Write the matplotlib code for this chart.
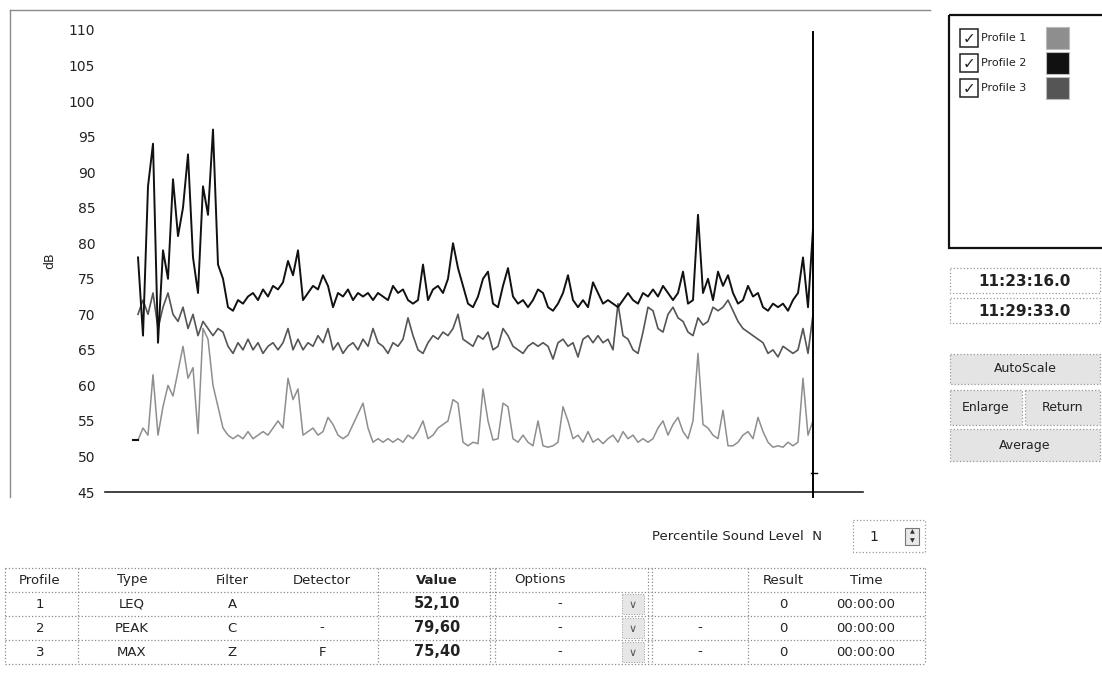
import numpy as np
import matplotlib
matplotlib.use("Agg")
import matplotlib.pyplot as plt
from matplotlib.patches import Rectangle

# ---------------- data ----------------
profile1_db = [52.3, 54, 53, 61.5, 53, 57, 60, 58.5, 62, 65.5, 61, 62.5, 53.2, 68, 66.5, 60, 57, 54, 53, 52.5,
               53, 52.5, 53.5, 52.5, 53, 53.5, 53, 54, 55, 54, 61, 58, 59.5, 53, 53.5, 54, 53, 53.5, 55.5, 54.5,
               53, 52.5, 53, 54.5, 56, 57.5, 54, 52, 52.5, 52, 52.5, 52, 52.5, 52, 53, 52.5, 53.5, 55, 52.5, 53,
               54, 54.5, 55, 58, 57.5, 52, 51.5, 52, 51.8, 59.5, 55, 52.3, 52.5, 57.5, 57, 52.5, 52, 53, 52, 51.5,
               55, 51.5, 51.3, 51.5, 52, 57, 55, 52.5, 53, 52, 53.5, 52, 52.5, 51.8, 52.5, 53, 52, 53.5, 52.5, 53,
               52, 52.5, 52, 52.5, 54, 55, 53, 54.5, 55.5, 53.5, 52.5, 55, 64.5, 54.5, 54, 53, 52.5, 56.5, 51.5, 51.5,
               52, 53, 53.5, 52.5, 55.5, 53.5, 52, 51.3, 51.5, 51.3, 52, 51.5, 52, 61, 53, 55]
profile2_db = [78, 67, 88, 94, 66, 79, 75, 89, 81, 85, 92.5, 78, 73, 88, 84, 96, 77, 75, 71, 70.5,
               72, 71.5, 72.5, 73, 72, 73.5, 72.5, 74, 73.5, 74.5, 77.5, 75.5, 79, 72, 73, 74, 73.5, 75.5, 74, 71,
               73, 72.5, 73.5, 72, 73, 72.5, 73, 72, 73, 72.5, 72, 74, 73, 73.5, 72, 71.5, 72, 77, 72, 73.5,
               74, 73, 75, 80, 76.5, 74, 71.5, 71, 72.5, 75, 76, 71.5, 71, 74, 76.5, 72.5, 71.5, 72, 71, 72,
               73.5, 73, 71, 70.5, 71.5, 73, 75.5, 72, 71, 72, 71, 74.5, 73, 71.5, 72, 71.5, 71, 72, 73, 72,
               71.5, 73, 72.5, 73.5, 72.5, 74, 73, 72, 73, 76, 71.5, 72, 84, 73, 75, 72, 76, 74, 75.5, 73,
               71.5, 72, 74, 72.5, 73, 71, 70.5, 71.5, 71, 71.5, 70.5, 72, 73, 78, 71, 82]
profile3_db = [70, 72, 70, 73, 68, 71, 73, 70, 69, 71, 68, 70, 67, 69, 68, 67, 68, 67.5, 65.5, 64.5,
               66, 65, 66.5, 65, 66, 64.5, 65.5, 66, 65, 66, 68, 65, 66.5, 65, 66, 65.5, 67, 66, 68, 65,
               66, 64.5, 65.5, 66, 65, 66.5, 65.5, 68, 66, 65.5, 64.5, 66, 65.5, 66.5, 69.5, 67, 65, 64.5, 66, 67,
               66.5, 67.5, 67, 68, 70, 66.5, 66, 65.5, 67, 66.5, 67.5, 65, 65.5, 68, 67, 65.5, 65, 64.5, 65.5, 66,
               65.5, 66, 65.5, 63.7, 66, 66.5, 65.5, 66, 64, 66.5, 67, 66, 67, 66, 66.5, 65, 71.5, 67, 66.5, 65,
               64.5, 67.5, 71, 70.5, 68, 67.5, 70, 71, 69.5, 69, 67.5, 67, 69.5, 68.5, 69, 71, 70.5, 71, 72, 70.5,
               69, 68, 67.5, 67, 66.5, 66, 64.5, 65, 64, 65.5, 65, 64.5, 65, 68, 64.5, 70]

y_ticks = [45, 50, 55, 60, 65, 70, 75, 80, 85, 90, 95, 100, 105, 110]
start_time = "11:23:16.0"
end_time = "11:29:33.0"
duration_s = 377
legend_labels = ["Profile 1", "Profile 2", "Profile 3"]
series_colors = ["#8e8e8e", "#111111", "#555555"]

table_header = ["Profile", "Type", "Filter", "Detector", "Value", "Options", "", "Result", "Time"]
table_profile = ["1", "2", "3"]
table_type = ["LEQ", "PEAK", "MAX"]
table_filter = ["A", "C", "Z"]
table_detector = ["", "-", "F"]
table_value = ["52,10", "79,60", "75,40"]
table_options = ["-", "-", "-"]
table_extra = ["", "-", "-"]
table_result = ["0", "0", "0"]
table_time = ["00:00:00", "00:00:00", "00:00:00"]
buttons = ["AutoScale", "Enlarge", "Return", "Average"]
percentile_label = "Percentile Sound Level  N"
percentile_n = "1"

# ---------------- figure ----------------
W, H = 1102, 675
fig = plt.figure(figsize=(W / 100, H / 100), dpi=100)
fig.patch.set_facecolor("white")


def frac(x0, y0, x1, y1):
    return [x0 / W, 1 - y1 / H, (x1 - x0) / W, (y1 - y0) / H]


# overlay in pixel coordinates for the UI chrome
ov = fig.add_axes([0, 0, 1, 1], zorder=0)
ov.set_xlim(0, W)
ov.set_ylim(H, 0)
ov.axis("off")

# main chart
ax = fig.add_axes(frac(105, 30, 863, 492), zorder=1)
ax.patch.set_alpha(0)
t = np.linspace(0, duration_s, len(profile1_db))
px_per_s = (813 - 138) / duration_s
ax.set_xlim(-(138 - 105) / px_per_s, duration_s + (863 - 813) / px_per_s)
ax.set_ylim(45, 110)
for vals, col, z, lw in [(profile1_db, series_colors[0], 2, 1.1), (profile3_db, series_colors[2], 3, 1.2),
                         (profile2_db, series_colors[1], 4, 1.4)]:
    ax.plot(t, vals, color=col, lw=lw, zorder=z)
# short start marker of profile 1
ax.plot([t[0] - 3, t[0]], [profile1_db[0], profile1_db[0]], color=series_colors[1], lw=1.5)
# cursor
ax.plot([t[-1], t[-1]], [44.3, 109.7], color="black", lw=1.4, clip_on=False, zorder=6)
ax.plot([t[-1] - 1, t[-1] + 2], [47.7, 47.7], color="black", lw=1, zorder=6)

ax.set_yticks(y_ticks)
ax.set_yticklabels([str(v) for v in y_ticks], fontsize=10, color="#222222")
ax.set_xticks([])
ax.tick_params(axis="y", length=0, pad=7)
for s in ["top", "right", "left"]:
    ax.spines[s].set_visible(False)
ax.spines["bottom"].set_color("#222222")
ax.spines["bottom"].set_linewidth(1.2)
ax.set_ylabel("dB", fontsize=9, color="#222222", labelpad=9)

# chart frame (left and top)
ov.plot([10, 10], [10, 497], color="#8a8a8a", lw=1)
ov.plot([10, 930], [10, 10], color="#8a8a8a", lw=1)

# legend panel
ov.add_patch(Rectangle((949, 15), 160, 233, fill=False, ec="#111111", lw=1.6))
for i, (lab, col) in enumerate(zip(legend_labels, series_colors)):
    yc = 38 + i * 25
    ov.add_patch(Rectangle((960, yc - 9), 18, 18, fill=False, ec="#222222", lw=1.1))
    ov.text(969, yc + 1, "\u2713", fontsize=11, ha="center", va="center", color="#222222")
    ov.text(981, yc, lab, fontsize=8, ha="left", va="center", color="#222222")
    ov.add_patch(Rectangle((1046, yc - 11), 23, 22, color=col, ec="#bbbbbb", lw=0.8))

# time boxes
for yb, txt in [(268, start_time), (298, end_time)]:
    ov.add_patch(Rectangle((950, yb), 150, 25, fill=False, ec="#999999", lw=0.9, ls=":"))
    ov.text(1025, yb + 13, txt, fontsize=11, fontweight="bold", ha="center", va="center",
            color="#222222")


# buttons
def button(x0, y0, w, h, label):
    ov.add_patch(Rectangle((x0, y0), w, h, fc="#e4e4e4", ec="#9a9a9a", lw=0.9, ls=":"))
    ov.text(x0 + w / 2, y0 + h / 2, label, fontsize=9, ha="center", va="center", color="#222222")


button(950, 354, 150, 30, buttons[0])
button(950, 390, 72, 35, buttons[1])
button(1025, 390, 75, 35, buttons[2])
button(950, 429, 150, 32, buttons[3])

# percentile control
ov.text(822, 536, percentile_label, fontsize=9.5, ha="right", va="center", color="#222222")
ov.add_patch(Rectangle((853, 520), 72, 32, fill=False, ec="#999999", lw=0.9, ls=":"))
ov.text(874, 537, percentile_n, fontsize=10, ha="center", va="center", color="#222222")
ov.add_patch(Rectangle((905, 528), 14, 17, fc="#e8e8e8", ec="#777777", lw=0.8))
ov.text(912, 532, "\u25b2", fontsize=4.5, ha="center", va="center", color="#333333")
ov.text(912, 541, "\u25bc", fontsize=4.5, ha="center", va="center", color="#333333")

# table
row_lines = [568, 592, 616, 640, 664]
for y in row_lines:
    ov.plot([5, 925], [y, y], color="#8a8a8a", lw=0.9, ls=":")
for x in [5, 78, 378, 490, 495, 648, 652, 748, 925]:
    ov.plot([x, x], [568, 664], color="#8a8a8a", lw=0.9, ls=":")
col_x = [40, 132, 232, 322, 437, 540, 700, 783, 866]
hy = 580
for x, h in zip(col_x, table_header):
    ov.text(x, hy, h, fontsize=9.5, ha="center", va="center", color="#222222",
            fontweight="bold" if h == "Value" else "normal")
columns = [table_profile, table_type, table_filter, table_detector, table_value,
           table_options, table_extra, table_result, table_time]
for r in range(3):
    yc = 604 + r * 24
    for ci, (x, col) in enumerate(zip(col_x, columns)):
        xx = 560 if ci == 5 else x
        ov.text(xx, yc, col[r], fontsize=10.5 if ci == 4 else 9.5, ha="center", va="center",
                color="#222222", fontweight="bold" if ci == 4 else "normal")
    ov.add_patch(Rectangle((622, yc - 10), 22, 20, fc="#e6e6e6", ec="#999999", lw=0.7, ls=":"))
    ov.text(633, yc + 1, "\u2228", fontsize=8, ha="center", va="center", color="#555555")

fig.savefig("out.png", dpi=100, facecolor="white")
